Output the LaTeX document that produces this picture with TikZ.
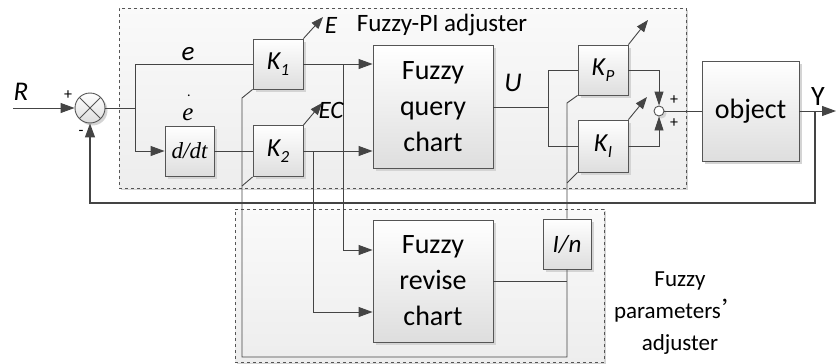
\documentclass[tikz,border=0pt]{standalone}
\usepackage{fontspec}
\setmainfont{Carlito}
\newfontfamily\serifit{Liberation Serif}
\newfontfamily\cjk{Noto Sans CJK SC}
\usetikzlibrary{arrows.meta,shadows,calc}
\definecolor{ln}{HTML}{444444}
\definecolor{bd}{HTML}{555555}
\definecolor{shd}{HTML}{D4D4D4}
\newcommand\Ksub[1]{K\kern0.3pt\raisebox{-0.22em}{\fontsize{17}{17}\selectfont #1}}
\tikzset{
  blk/.style={draw=bd, line width=0.9pt, top color=white, bottom color=black!13,
    drop shadow={shadow xshift=2.5pt, shadow yshift=-2.5pt, fill=shd, opacity=1},
    inner sep=0pt, align=center},
  cont/.style={draw=bd, dashed, line width=0.8pt, top color=black!2, bottom color=black!7,
    drop shadow={shadow xshift=2pt, shadow yshift=-2pt, fill=shd, opacity=1}, inner sep=0pt},
  wire/.style={draw=ln, line width=0.9pt},
  arr/.style={wire, -{Triangle[length=14pt,width=10pt]}},
  garr/.style={wire, -{Triangle[length=12pt,width=9pt]}},
  sarr/.style={wire, -{Triangle[length=14pt,width=9pt]}},
  lbl/.style={inner sep=0pt, font=\fontsize{27}{27}\selectfont\itshape},
  klbl/.style={font=\fontsize{26}{26}\selectfont\itshape},
  pm/.style={inner sep=0pt, font=\fontsize{16}{16}\selectfont},
  chart/.style={blk, font=\fontsize{28}{36}\selectfont},
}
\begin{document}
\begin{tikzpicture}[x=1pt,y=-1pt]
\useasboundingbox (0,0) rectangle (836,364);
% containers
\node[cont, minimum width=567pt, minimum height=180pt] (pi) at (402.5,98) {};
\node[cont, minimum width=369pt, minimum height=153pt] (fp) at (419.5,285.5) {};
% blocks
\node[blk, circle, minimum size=30pt,
  path picture={\draw[bd, line width=0.8pt] (path picture bounding box.north west) -- (path picture bounding box.south east)
   (path picture bounding box.north east) -- (path picture bounding box.south west);}] (s1) at (90,108) {};
\node[blk, minimum width=49pt, minimum height=50pt, font=\fontsize{23}{23}\selectfont\serifit\itshape] (ddt) at (189.5,151) {d/dt};
\node[blk, minimum width=50pt, minimum height=50pt, klbl] (K1) at (278,64) {\Ksub{1}};
\node[blk, minimum width=50pt, minimum height=51pt, klbl] (K2) at (278,151) {\Ksub{2}};
\node[chart, minimum width=120pt, minimum height=123pt] (Q) at (433,107) {Fuzzy\\query\\chart};
\node[chart, minimum width=120pt, minimum height=122pt] (RV) at (433,281) {Fuzzy\\revise\\chart};
\node[blk, minimum width=48pt, minimum height=50pt, font=\fontsize{25}{25}\selectfont\itshape] (In) at (567,244) {I/n};
\node[blk, minimum width=50pt, minimum height=50pt, klbl] (KP) at (603,70) {\Ksub{P}};
\node[blk, minimum width=50pt, minimum height=52pt, klbl] (KI) at (603,146) {\Ksub{I}};
\node[blk, circle, minimum size=10pt, top color=white, bottom color=white] (s2) at (659,111) {};
\node[chart, minimum width=97pt, minimum height=100pt] (obj) at (750.5,111) {object};
% coordinates
\coordinate (Rin) at (13,108);
\coordinate (sp) at (135,108);
\coordinate (t1) at (343,64);
\coordinate (t2) at (313,151);
\coordinate (c1) at (242,98);
\coordinate (c2) at (242,186);
\coordinate (lb) at (242,357);
\coordinate (c3) at (567,103);
\coordinate (c4) at (567,183);
\coordinate (us) at (548,107);
\coordinate (yo) at (836,111);
\coordinate (fb) at (815,111);
\coordinate (fb2) at (815,203);
\coordinate (E1) at (323,17);
\coordinate (E2) at (322,103);
\coordinate (E3) at (648,20);
\coordinate (E4) at (647,97);
% wires
\draw[arr] (Rin) -- (s1.west);
\draw[wire] (s1.east) -- (sp);
\draw[wire] (sp) |- (K1.west);
\draw[arr] (sp) |- (ddt.west);
\draw[wire] (ddt.east) -- (K2.west);
\draw[arr] (K1.east) -- (K1.east -| Q.west);
\draw[arr] (K2.east) -- (K2.east -| Q.west);
\draw[arr] (t1) |- (RV.west |- 0,250);
\draw[arr] (t2) |- (RV.west |- 0,312);
\draw[wire] (K1.south west) -- (c1) -- (lb) -| (In.south);
\draw[wire] (K2.south west) -- (c2);
\draw[wire] (RV.east) -- (RV.east -| In.south);
\draw[wire] (In.north) -- (c3) -- (KP.south west);
\draw[wire] (KI.south west) -- (c4);
\draw[wire] (Q.east) -- (us);
\draw[wire] (KP.west) -- (KP.west -| us) -- (KI.west -| us) -- (KI.west);
\draw[sarr] (KP.east) -| (s2.north);
\draw[sarr] (KI.east) -| (s2.south);
\draw[wire] (s2.east) -- (obj.west);
\draw[arr] (obj.east) -- (yo);
\draw[wire, line width=1.2pt, -{Triangle[length=14pt,width=10pt]}] (fb) -- (fb2) -| (s1.south);
\draw[garr] (K1.north east) -- (E1);
\draw[garr] (K2.north east) -- (E2);
\draw[garr] (KP.north east) -- (E3);
\draw[garr] (KI.north east) -- (E4);
% labels
\node[lbl] (lR) at (21,92) {R};
\node[pm] (p1) at (68,95) {+};
\node[pm] (m1) at (81,133) {-};
\node[lbl] (le) at (188,54) {e};
\node[inner sep=0pt, font=\fontsize{25}{25}\selectfont\serifit\itshape] (led) at (188,115) {e};
\node[inner sep=0pt, font=\fontsize{14}{14}\selectfont] (ldot) at (189,96) {.};
\node[lbl] (lU) at (513,83) {U};
\node[lbl, font=\fontsize{25}{25}\selectfont\itshape] (lE) at (331,25) {E};
\node[lbl, font=\fontsize{25}{25}\selectfont\itshape] (lEC) at (331,110) {EC};
\node[inner sep=0pt, font=\fontsize{28}{28}\selectfont] (lY) at (818,97) {Y};
\node[pm] (p2) at (674,100) {+};
\node[pm] (p3) at (674,123) {+};
\node[inner sep=0pt, font=\fontsize{25}{25}\selectfont] (lpi) at (442,25) {Fuzzy-PI adjuster};
\node[align=center, inner sep=0pt, font=\fontsize{23}{32}\selectfont] (lfp) at (680,313) {Fuzzy\\parameters\kern2pt{\cjk ’}\\adjuster};
\end{tikzpicture}
\end{document}
